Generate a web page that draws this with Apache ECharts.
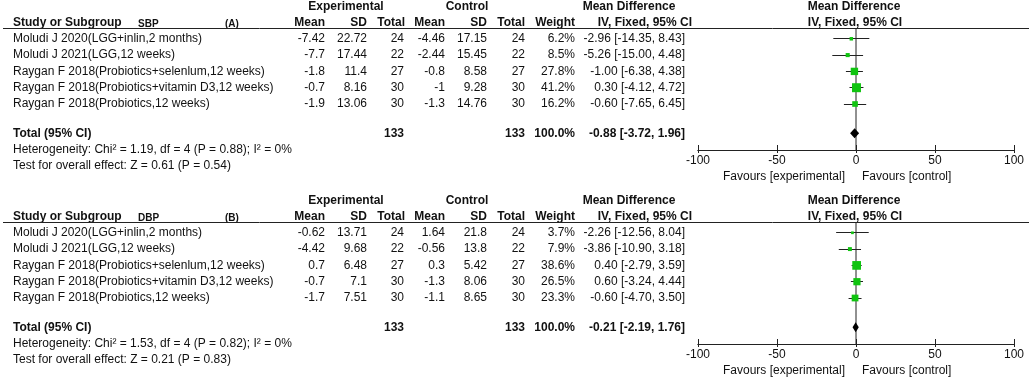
<!DOCTYPE html>
<html>
<head>
<meta charset="utf-8" />
<title></title>
<style type="text/css">
  html, body { margin: 0; padding: 0; background: #fff; }
  #main { width: 1029px; height: 382px; }
</style>
</head>
<body>
<div id="main"></div>
<script src="https://cdn.jsdelivr.net/npm/echarts@6/dist/echarts.min.js"></script>
<script type="text/javascript">
// studies (same for both panels)
var studies = [
  "Moludi J 2020(LGG+inlin,2 months)",
  "Moludi J 2021(LGG,12 weeks)",
  "Raygan F 2018(Probiotics+selenlum,12 weeks)",
  "Raygan F 2018(Probiotics+vitamin D3,12 weeks)",
  "Raygan F 2018(Probiotics,12 weeks)"
];

// SBP (A)
var sbpExpMean = [-7.42, -7.7, -1.8, -0.7, -1.9];
var sbpExpSD = [22.72, 17.44, 11.4, 8.16, 13.06];
var sbpExpN = [24, 22, 27, 30, 30];
var sbpCtrlMean = [-4.46, -2.44, -0.8, -1, -1.3];
var sbpCtrlSD = [17.15, 15.45, 8.58, 9.28, 14.76];
var sbpCtrlN = [24, 22, 27, 30, 30];
var sbpWeight = [6.2, 8.5, 27.8, 41.2, 16.2];
var sbpMD = [-2.96, -5.26, -1.00, 0.30, -0.60];
var sbpLo = [-14.35, -15.00, -6.38, -4.12, -7.65];
var sbpHi = [8.43, 4.48, 4.38, 4.72, 6.45];
var sbpTotal = [-0.88, -3.72, 1.96]; // md, lower, upper
var sbpTotalWeight = 100.0;
var sbpHet = "Heterogeneity: Chi² = 1.19, df = 4 (P = 0.88); I² = 0%";
var sbpTest = "Test for overall effect: Z = 0.61 (P = 0.54)";

// DBP (B)
var dbpExpMean = [-0.62, -4.42, 0.7, -0.7, -1.7];
var dbpExpSD = [13.71, 9.68, 6.48, 7.1, 7.51];
var dbpExpN = [24, 22, 27, 30, 30];
var dbpCtrlMean = [1.64, -0.56, 0.3, -1.3, -1.1];
var dbpCtrlSD = [21.8, 13.8, 5.42, 8.06, 8.65];
var dbpCtrlN = [24, 22, 27, 30, 30];
var dbpWeight = [3.7, 7.9, 38.6, 26.5, 23.3];
var dbpMD = [-2.26, -3.86, 0.40, 0.60, -0.60];
var dbpLo = [-12.56, -10.90, -2.79, -3.24, -4.70];
var dbpHi = [8.04, 3.18, 3.59, 4.44, 3.50];
var dbpTotal = [-0.21, -2.19, 1.76];
var dbpTotalWeight = 100.0;
var dbpHet = "Heterogeneity: Chi² = 1.53, df = 4 (P = 0.82); I² = 0%";
var dbpTest = "Test for overall effect: Z = 0.21 (P = 0.83)";

var panels = [
  { label: "SBP", tag: "(A)", expMean: sbpExpMean, expSD: sbpExpSD, expN: sbpExpN,
    ctrlMean: sbpCtrlMean, ctrlSD: sbpCtrlSD, ctrlN: sbpCtrlN, weight: sbpWeight,
    md: sbpMD, lo: sbpLo, hi: sbpHi, total: sbpTotal, totalWeight: sbpTotalWeight,
    het: sbpHet, test: sbpTest },
  { label: "DBP", tag: "(B)", expMean: dbpExpMean, expSD: dbpExpSD, expN: dbpExpN,
    ctrlMean: dbpCtrlMean, ctrlSD: dbpCtrlSD, ctrlN: dbpCtrlN, weight: dbpWeight,
    md: dbpMD, lo: dbpLo, hi: dbpHi, total: dbpTotal, totalWeight: dbpTotalWeight,
    het: dbpHet, test: dbpTest }
];

var FONT = '"Liberation Sans", Arial, sans-serif';
var INK = "#111";
var LINE = "#222";
var GREEN = "#10c410";
var PANEL_OFF = 194;   // vertical shift of panel B
var TOTAL_ROW = 6.8;   // row index of the pooled line

var chart = echarts.init(document.getElementById("main"));

function crisp(v) { return Math.round(v - 0.5) + 0.5; }

// CI whisker + weighted square
function renderStudy(params, api) {
  var row = api.value(4);
  var pLo = api.coord([api.value(1), row]);
  var pHi = api.coord([api.value(2), row]);
  var pMd = api.coord([api.value(0), row]);
  var s = 1.4 * Math.sqrt(api.value(3));
  var y = crisp(pMd[1]);
  return {
    type: "group",
    children: [
      { type: "line", shape: { x1: pLo[0], y1: y, x2: pHi[0], y2: y },
        style: { stroke: LINE, lineWidth: 1 } },
      { type: "rect", shape: { x: pMd[0] - s / 2, y: pMd[1] - s / 2, width: s, height: s },
        style: { fill: GREEN } }
    ]
  };
}

// pooled diamond
function renderDiamond(params, api) {
  var row = api.value(3);
  var pMd = api.coord([api.value(0), row]);
  var pLo = api.coord([api.value(1), row]);
  var pHi = api.coord([api.value(2), row]);
  return {
    type: "polygon",
    shape: { points: [[pLo[0], pMd[1]], [pMd[0], pMd[1] - 5], [pHi[0], pMd[1]], [pMd[0], pMd[1] + 5]] },
    style: { fill: "#000" }
  };
}

var grids = [], xAxes = [], yAxes = [], series = [];
panels.forEach(function (d, p) {
  var off = p * PANEL_OFF;
  grids.push({ left: 698, right: 15, top: 29 + off, height: 121 });
  var axBase = { gridIndex: p, type: "value", min: -100, max: 100, interval: 50, position: "bottom",
    splitLine: { show: false }, axisLine: { lineStyle: { color: LINE, width: 1 } } };
  xAxes.push(Object.assign({}, axBase, {
    axisTick: { inside: true, length: 5, lineStyle: { color: LINE } },
    axisLabel: { show: false }
  }));
  xAxes.push(Object.assign({}, axBase, {
    axisTick: { inside: false, length: 3, lineStyle: { color: LINE } },
    axisLabel: { color: INK, fontSize: 12, fontFamily: FONT, margin: 5 }
  }));
  yAxes.push({ gridIndex: p, type: "value", min: 0.4, max: 7.82, inverse: true, show: false });

  var rows = d.md.map(function (m, i) { return [m, d.lo[i], d.hi[i], d.weight[i], i + 1]; });
  series.push({
    type: "line", xAxisIndex: 2 * p, yAxisIndex: p, symbol: "none", silent: true, z: 1,
    lineStyle: { color: LINE, width: 1 }, data: [[0, 0.4], [0, 7.82]]
  });
  series.push({
    type: "custom", xAxisIndex: 2 * p, yAxisIndex: p, z: 3, clip: false,
    renderItem: renderStudy, encode: { x: [0, 1, 2], y: 4 }, data: rows
  });
  series.push({
    type: "custom", xAxisIndex: 2 * p, yAxisIndex: p, z: 3, clip: false,
    renderItem: renderDiamond, encode: { x: [0, 1, 2], y: 3 },
    data: [[d.total[0], d.total[1], d.total[2], TOTAL_ROW]]
  });
});

chart.setOption({
  animation: false,
  backgroundColor: "#fff",
  grid: grids,
  xAxis: xAxes,
  yAxis: yAxes,
  series: series
});

// table text
function txt(x, y, s, align, bold, size) {
  return {
    type: "text", x: x, y: y, silent: true,
    style: {
      text: s, textAlign: align || "left", textVerticalAlign: "middle",
      font: (bold ? "bold " : "") + (size || 12) + "px " + FONT, fill: INK
    }
  };
}
function sum(a) { return a.reduce(function (s, v) { return s + v; }, 0); }
function ci(m, l, h) { return m.toFixed(2) + " [" + l.toFixed(2) + ", " + h.toFixed(2) + "]"; }

var cols = [325, 367, 404, 445, 487, 525, 575, 685];
var graphics = [];
panels.forEach(function (d, p) {
  var off = p * PANEL_OFF;
  var x0 = chart.convertToPixel({ gridIndex: p }, [0, 1])[0];
  var axisY = chart.convertToPixel({ gridIndex: p }, [0, 7.82])[1];

  graphics.push(txt(346, 7 + off, "Experimental", "center", true));
  graphics.push(txt(467, 7 + off, "Control", "center", true));
  graphics.push(txt(629, 7 + off, "Mean Difference", "center", true));
  graphics.push(txt(x0 - 2, 7 + off, "Mean Difference", "center", true));

  var hy = 23 + off;
  graphics.push(txt(13, hy, "Study or Subgroup", "left", true));
  graphics.push(txt(138, hy + 1, d.label, "left", true, 10));
  graphics.push(txt(225, hy + 1, d.tag, "left", true, 10));
  ["Mean", "SD", "Total", "Mean", "SD", "Total", "Weight"].forEach(function (h, k) {
    graphics.push(txt(cols[k] + (k === 2 ? 1 : 0), hy, h, "right", true));
  });
  graphics.push(txt(692, hy, "IV, Fixed, 95% CI", "right", true));
  graphics.push(txt(x0 - 1, hy, "IV, Fixed, 95% CI", "center", true));
  graphics.push({
    type: "line", silent: true,
    shape: { x1: 3, y1: 28.5 + off, x2: 1029, y2: 28.5 + off },
    style: { stroke: LINE, lineWidth: 1 }
  });

  studies.forEach(function (name, i) {
    var y = chart.convertToPixel({ gridIndex: p }, [0, i + 1])[1];
    var vals = [d.expMean[i], d.expSD[i], d.expN[i], d.ctrlMean[i], d.ctrlSD[i], d.ctrlN[i]];
    graphics.push(txt(13, y, name));
    vals.forEach(function (v, k) { graphics.push(txt(cols[k], y, String(v), "right")); });
    graphics.push(txt(cols[6], y, d.weight[i].toFixed(1) + "%", "right"));
    graphics.push(txt(cols[7], y, ci(d.md[i], d.lo[i], d.hi[i]), "right"));
  });

  var ty = chart.convertToPixel({ gridIndex: p }, [0, TOTAL_ROW])[1];
  graphics.push(txt(13, ty, "Total (95% CI)", "left", true));
  graphics.push(txt(cols[2], ty, String(sum(d.expN)), "right", true));
  graphics.push(txt(cols[5], ty, String(sum(d.ctrlN)), "right", true));
  graphics.push(txt(cols[6], ty, d.totalWeight.toFixed(1) + "%", "right", true));
  graphics.push(txt(cols[7], ty, ci(d.total[0], d.total[1], d.total[2]), "right", true));
  graphics.push(txt(13, ty + 16.5, d.het));
  graphics.push(txt(13, ty + 32.5, d.test));

  graphics.push(txt(x0 - 11, axisY + 27, "Favours [experimental]", "right"));
  graphics.push(txt(x0 + 6, axisY + 27, "Favours [control]", "left"));
});

chart.setOption({ graphic: graphics });
</script>
</body>
</html>
